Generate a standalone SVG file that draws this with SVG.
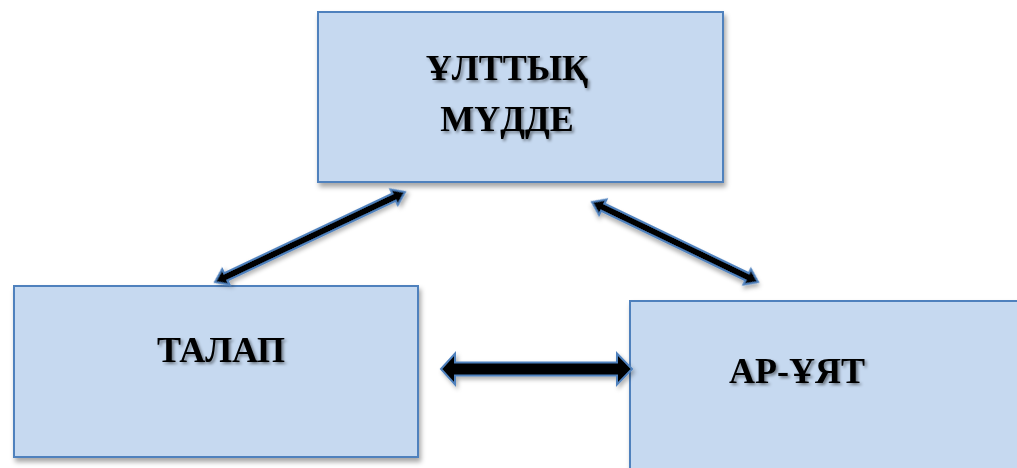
<svg xmlns="http://www.w3.org/2000/svg" width="1017" height="468" viewBox="0 0 1017 468">
<defs>
<style>
.box{fill:#C6D9F0;stroke:#4F81BD;stroke-width:2;filter:url(#sh)}
.lbl{font-family:"Liberation Serif","DejaVu Serif",serif;font-weight:bold;font-size:36px;fill:#000;text-anchor:middle;filter:url(#tsh)}
.arr{fill:#000;stroke:#4F81BD;stroke-width:2;stroke-linejoin:miter;filter:url(#ash)}
</style>
<filter id="sh" x="-10%" y="-10%" width="125%" height="130%">
<feDropShadow dx="2" dy="4" stdDeviation="2.5" flood-color="#000" flood-opacity="0.35"/>
</filter>
<filter id="tsh" x="-10%" y="-20%" width="125%" height="150%">
<feDropShadow dx="2" dy="2" stdDeviation="1.5" flood-color="#000" flood-opacity="0.45"/>
</filter>
<filter id="ash" x="-20%" y="-50%" width="140%" height="200%">
<feDropShadow dx="2" dy="3" stdDeviation="2" flood-color="#000" flood-opacity="0.3"/>
</filter>
</defs>
<rect width="1017" height="468" fill="#fff"/>
<g id="node-ulttyk">
<rect class="box" x="318" y="12" width="405" height="170"/>
<text class="lbl" x="507" y="80" font-size="35">ҰЛТТЫҚ</text>
<text class="lbl" x="507" y="131" font-size="35">МҮДДЕ</text>
</g>
<g id="node-talap">
<rect class="box" x="14" y="286" width="404" height="171"/>
<text class="lbl" x="221" y="362">ТАЛАП</text>
</g>
<g id="node-aruyat">
<rect class="box" x="630" y="301" width="400" height="180"/>
<text class="lbl" x="797" y="383">АР-ҰЯТ</text>
</g>
<g id="connectors">
<path class="arr" transform="translate(215,282) rotate(-25.35)" d="M0,0 L12,-8.5 L12,-4 L198.2,-4 L198.2,-8.5 L210.2,0 L198.2,8.5 L198.2,4 L12,4 L12,8.5 Z"/>
<path class="arr" transform="translate(592,202) rotate(25.73)" d="M0,0 L12,-8.5 L12,-4 L172.3,-4 L172.3,-8.5 L184.3,0 L172.3,8.5 L172.3,4 L12,4 L12,8.5 Z"/>
<path class="arr" d="M441,369 L455,353.5 L455,362.5 L617,362.5 L617,353.5 L632,369 L617,384.5 L617,375.5 L455,375.5 L455,384.5 Z"/>
</g>
</svg>
